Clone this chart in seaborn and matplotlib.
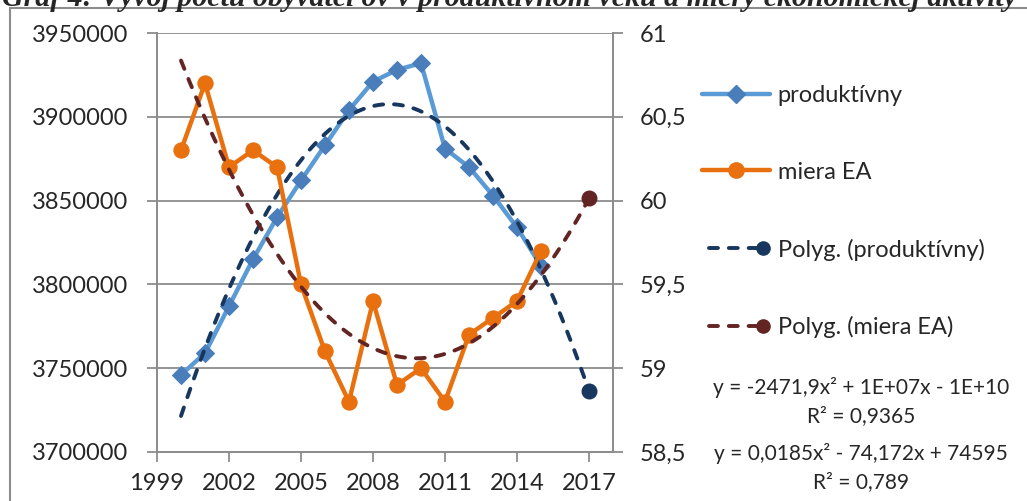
import numpy as np
import pandas as pd
import matplotlib
matplotlib.use("Agg")
import matplotlib.pyplot as plt
from matplotlib.lines import Line2D
from matplotlib.legend_handler import HandlerLine2D
from matplotlib.patches import Rectangle
import seaborn as sns

# ---- data ----
years = [2000, 2001, 2002, 2003, 2004, 2005, 2006, 2007, 2008, 2009, 2010,
         2011, 2012, 2013, 2014, 2015]
produktivny = [3746000, 3759000, 3787000, 3815000, 3840000, 3862000, 3883000,
               3904000, 3921000, 3928000, 3932000, 3881000, 3870000, 3853000,
               3834000, 3811000]
miera_ea = [60.3, 60.7, 60.2, 60.3, 60.2, 59.5, 59.1, 58.8, 59.4, 58.9, 59.0,
            58.8, 59.2, 59.3, 59.4, 59.7]
trend_end_year = 2017
xticks = [1999, 2002, 2005, 2008, 2011, 2014, 2017]
left_ticks = [3700000, 3750000, 3800000, 3850000, 3900000, 3950000]
right_ticks = [58.5, 59, 59.5, 60, 60.5, 61]
right_labels = ["58,5", "59", "59,5", "60", "60,5", "61"]
labels = ["produktívny", "miera EA", "Polyg. (produktívny)", "Polyg. (miera EA)"]
eq1 = ["y = -2471,9x² + 1E+07x - 1E+10", "R² = 0,9365"]
eq2 = ["y = 0,0185x² - 74,172x + 74595", "R² = 0,789"]
title = "Graf 4: Vývoj počtu obyvateľov v produktívnom veku a miery ekonomickej aktivity"

df = pd.DataFrame({"rok": years, "produktivny": produktivny, "miera": miera_ea})

# polynomial (order 2) trendlines, forecast to trend_end_year
xs = np.linspace(years[0], trend_end_year, 200)
c1 = np.polyfit(np.array(years) - 2000, produktivny, 2)
c2 = np.polyfit(np.array(years) - 2000, miera_ea, 2)
tr = pd.DataFrame({"rok": xs, "t1": np.polyval(c1, xs - 2000), "t2": np.polyval(c2, xs - 2000)})
end = tr.iloc[[-1]]

# ---- style ----
sns.set_theme(style="white")
plt.rcParams["font.family"] = ["Lato", "DejaVu Sans"]
FS = 17

BLUE_LINE = "#5B9BD5"
BLUE_MARK = "#4A7EBB"
ORANGE = "#E8700E"
NAVY = "#17375E"
MAROON = "#632523"
GRID = "#8C8C8C"
DASH = (0, (2.3, 2.8))
TLW = 2.8

fig = plt.figure(figsize=(10.27, 5.01), dpi=100)
ax = fig.add_axes([157/1027, 1-452/501, (613-157)/1027, (452-33)/501])
ax2 = ax.twinx()

# left axis series
sns.lineplot(data=df, x="rok", y="produktivny", ax=ax, color=BLUE_LINE, lw=3.2,
             marker="D", markersize=9, markerfacecolor=BLUE_MARK,
             markeredgecolor=BLUE_MARK, zorder=3)
sns.lineplot(data=tr, x="rok", y="t1", ax=ax, color=NAVY, lw=TLW,
             linestyle=DASH, dash_capstyle="round", zorder=4)
ax.plot(end["rok"], end["t1"], "o", color=NAVY, markersize=10.5, zorder=5)

# right axis series
sns.lineplot(data=df, x="rok", y="miera", ax=ax2, color=ORANGE, lw=3.2,
             marker="o", markersize=11, markeredgecolor=ORANGE, zorder=3)
sns.lineplot(data=tr, x="rok", y="t2", ax=ax2, color=MAROON, lw=TLW,
             linestyle=DASH, dash_capstyle="round", zorder=4)
ax2.plot(end["rok"], end["t2"], "o", color=MAROON, markersize=10.5, zorder=5)

ax.set_xlim(1999, 2018)
ax.set_ylim(3700000, 3950000)
ax2.set_ylim(58.5, 61)
ax.set_xticks(xticks)
ax.set_xticklabels([str(t) for t in xticks])
ax.set_yticks(left_ticks)
ax.set_yticklabels([str(t) for t in left_ticks])
ax2.set_yticks(right_ticks)
ax2.set_yticklabels(right_labels)
ax.set_xlabel("")
ax.set_ylabel("")
ax2.set_ylabel("")

ax.yaxis.grid(True, color=GRID, lw=1.3)
ax.xaxis.grid(False)
ax2.grid(False)
ax.set_axisbelow(True)

for a in (ax, ax2):
    a.spines["top"].set_visible(False)
    for s in ("left", "right", "bottom"):
        a.spines[s].set_color(GRID)
        a.spines[s].set_linewidth(1.3)
ax.tick_params(axis="y", direction="out", length=7, width=1.3, color=GRID,
               labelsize=FS, pad=14, left=True)
ax.tick_params(axis="x", direction="out", length=7, width=1.3, color=GRID,
               labelsize=FS, pad=8, bottom=True)
ax2.tick_params(axis="y", direction="out", length=7, width=1.3, color=GRID,
                labelsize=FS, pad=12, right=True)


class EndMarkerHandler(HandlerLine2D):
    """Dashed trendline legend entry with its marker at the right end."""
    def create_artists(self, legend, orig_handle, xdescent, ydescent, width,
                       height, fontsize, trans):
        arts = super().create_artists(legend, orig_handle, xdescent, ydescent,
                                      width, height, fontsize, trans)
        line = arts[0]
        n = len(np.asarray(line.get_xdata()))
        line.set_markevery([n - 1])
        return arts


# legend
h1 = Line2D([], [], color=BLUE_LINE, lw=3.2, marker="D", markersize=9,
            markerfacecolor=BLUE_MARK, markeredgecolor=BLUE_MARK)
h2 = Line2D([], [], color=ORANGE, lw=3.2, marker="o", markersize=11)
h3 = Line2D([], [], color=NAVY, lw=TLW, ls=DASH, dash_capstyle="round",
            marker="o", markersize=9.5)
h4 = Line2D([], [], color=MAROON, lw=TLW, ls=DASH, dash_capstyle="round",
            marker="o", markersize=9.5)
fig.legend([h1, h2, h3, h4], labels, loc="upper left",
           bbox_to_anchor=(702/1027, 1-85/501), frameon=False, fontsize=FS,
           handlelength=2.9, handletextpad=0.3, labelspacing=2.36,
           borderpad=0, borderaxespad=0,
           handler_map={h1: HandlerLine2D(numpoints=1), h2: HandlerLine2D(numpoints=1),
                        h3: EndMarkerHandler(numpoints=2), h4: EndMarkerHandler(numpoints=2)})

# equations
EQ = 15
fig.text(861/1027, 1-387/501, eq1[0], ha="center", va="center", fontsize=EQ)
fig.text(861/1027, 1-416/501, eq1[1], ha="center", va="center", fontsize=EQ)
fig.text(861/1027, 1-453/501, eq2[0], ha="center", va="center", fontsize=EQ)
fig.text(861/1027, 1-482/501, eq2[1], ha="center", va="center", fontsize=EQ)

# outer chart border and (cut-off) title, as in the reference
fig.patches.append(Rectangle((10/1027, -0.1), 1.2, 1.1 - 8/501,
                             transform=fig.transFigure, fill=False,
                             edgecolor=GRID, lw=1.5, zorder=0))
fig.text(2/1027, 1-6/501, title, ha="left", va="baseline", fontsize=21.5,
         family=["Liberation Serif"], fontweight="bold", style="italic")

fig.savefig("out.png", dpi=100)
